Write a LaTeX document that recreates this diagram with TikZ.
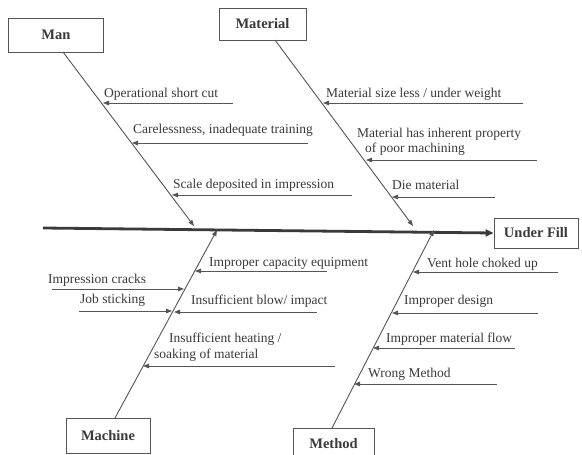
\documentclass[tikz,border=0pt]{standalone}
\usepackage{fontspec}
\setmainfont{Liberation Serif}
\usetikzlibrary{arrows.meta,calc}
\definecolor{ink}{HTML}{3A3A3A}
\definecolor{ln}{HTML}{555555}
\tikzset{
  catbox/.style={draw=ln, line width=0.9pt, minimum height=33pt, inner sep=0pt, font=\fontsize{14.5}{16}\selectfont\bfseries, text=ink},
  cause/.style={anchor=base west, inner sep=0pt, font=\fontsize{13.5}{15.5}\selectfont, text=ink, align=left},
  bone/.style={draw=ln, line width=0.9pt, -{Triangle[length=6pt,width=4.5pt]}},
  spinearrow/.style={draw=ink, line width=2.8pt, -{Triangle[length=8pt,width=7pt]}},
  twig/.style={draw=ln, line width=0.9pt, -{Triangle[length=6pt,width=4.5pt]}}
}
\begin{document}
\begin{tikzpicture}[x=1pt,y=-1pt]
\clip (0,0) rectangle (582,455);
\fill[white] (0,0) rectangle (582,455);
% category boxes
\node[catbox, minimum width=95pt, minimum height=34pt] (man) at (56,35) {Man};
\node[catbox, minimum width=87pt, minimum height=32pt] (material) at (262.5,24) {Material};
\node[catbox, minimum width=84pt, minimum height=30pt] (effect) at (536,233) {Under Fill};
\node[catbox, minimum width=84pt, minimum height=35pt] (machine) at (108,435.5) {Machine};
\node[catbox, minimum width=81pt, minimum height=32pt] (method) at (333.5,444) {\raisebox{-2pt}{Method}};
% spine
\coordinate (tail) at (43,228);
\draw[spinearrow] (tail) -- (effect.west);
% bone ends
\coordinate (manS) at (63,52);
\coordinate (manE) at (194,226);
\coordinate (matS) at (275,40);
\coordinate (matE) at (413,226);
\coordinate (macS) at (115,418);
\coordinate (macE) at (217,230);
\coordinate (metS) at (332,428);
\coordinate (metE) at (434,230);
\draw[bone] (manS) -- (manE);
\draw[bone] (matS) -- (matE);
\draw[bone] (macS) -- (macE);
\draw[bone] (metS) -- (metE);
% Man causes
\coordinate (m1a) at (233,103); \coordinate (m1b) at (103,103);
\coordinate (m2a) at (308,143); \coordinate (m2b) at (132,143);
\coordinate (m3a) at (352,195); \coordinate (m3b) at (172,195);
\draw[twig] (m1a) -- (m1b);
\draw[twig] (m2a) -- (m2b);
\draw[twig] (m3a) -- (m3b);
\node[cause] (t1) at (104,97) {Operational short cut};
\node[cause] (t2) at (133,133) {Carelessness, inadequate training};
\node[cause] (t3) at (173,188) {Scale deposited in impression};
% Material causes
\coordinate (a1a) at (523,103); \coordinate (a1b) at (323,103);
\coordinate (a2a) at (537,160); \coordinate (a2b) at (366,160);
\coordinate (a3a) at (495,197); \coordinate (a3b) at (392,197);
\draw[twig] (a1a) -- (a1b);
\draw[twig] (a2a) -- (a2b);
\draw[twig] (a3a) -- (a3b);
\node[cause] (t4) at (326,97) {Material size less / under weight};
\node[cause, font=\fontsize{13.5}{15}\selectfont] (t5) at (357,152) {Material has inherent property\\\hspace*{8pt}of poor machining};
\node[cause] (t6) at (392,189) {Die material};
% Machine causes
\coordinate (c1a) at (327,271); \coordinate (c1b) at (195,271);
\coordinate (c2a) at (52,289); \coordinate (c2b) at (184,289);
\coordinate (c3a) at (79,311); \coordinate (c3b) at (172,311);
\coordinate (c4a) at (317,312); \coordinate (c4b) at (174,312);
\coordinate (c5a) at (335,366); \coordinate (c5b) at (143,366);
\draw[twig] (c1a) -- (c1b);
\draw[twig] (c2a) -- (c2b);
\draw[twig] (c3a) -- (c3b);
\draw[twig] (c4a) -- (c4b);
\draw[twig] (c5a) -- (c5b);
\node[cause] (t7) at (209,266) {Improper capacity equipment};
\node[cause] (t8) at (48,283) {Impression cracks};
\node[cause] (t9) at (80,303) {Job sticking};
\node[cause] (t10) at (191,304) {Insufficient blow/ impact};
\node[cause, font=\fontsize{13.5}{16}\selectfont] (t11) at (154,358) {\hspace*{15pt}Insufficient heating /\\soaking of material};
% Method causes
\coordinate (d1a) at (558,272); \coordinate (d1b) at (413,272);
\coordinate (d2a) at (538,313); \coordinate (d2b) at (392,313);
\coordinate (d3a) at (515,348); \coordinate (d3b) at (373,348);
\coordinate (d4a) at (497,384); \coordinate (d4b) at (354,384);
\draw[twig] (d1a) -- (d1b);
\draw[twig] (d2a) -- (d2b);
\draw[twig] (d3a) -- (d3b);
\draw[twig] (d4a) -- (d4b);
\node[cause] (t12) at (427,267) {Vent hole choked up};
\node[cause] (t13) at (404,304) {Improper design};
\node[cause] (t14) at (386,342) {Improper material flow};
\node[cause] (t15) at (368,377) {Wrong Method};
\end{tikzpicture}
\end{document}
